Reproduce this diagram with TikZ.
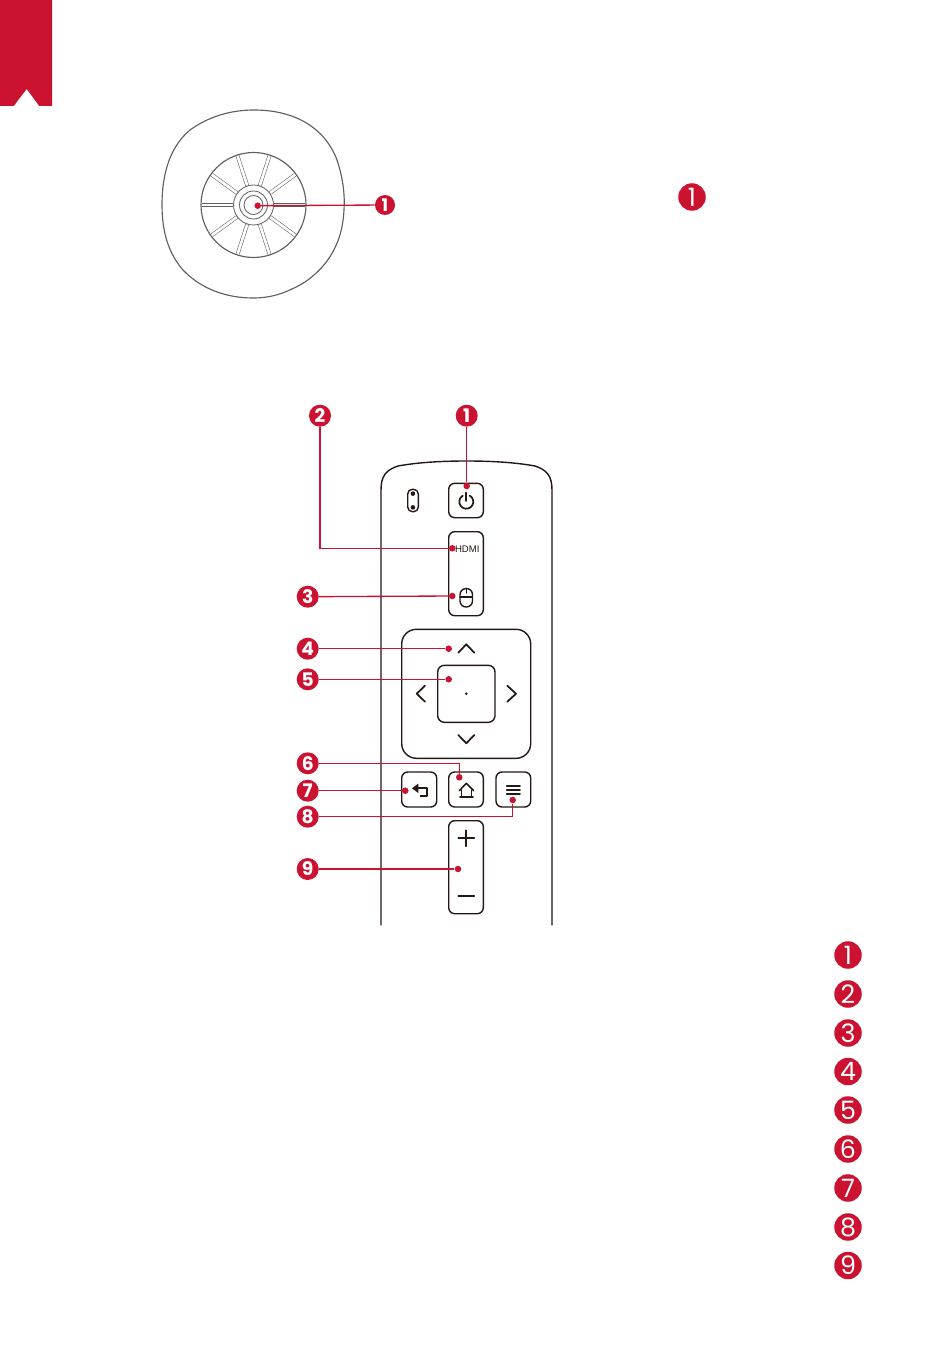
\documentclass[tikz,border=0pt]{standalone}
\usepackage{fontspec}
\setmainfont{Liberation Sans}
\newfontfamily\numfont{Poppins}
\definecolor{brandred}{HTML}{CB1230}
\definecolor{ink}{HTML}{231815}
\definecolor{greyline}{HTML}{5F5F5F}
\tikzset{
  num/.style={circle,fill=brandred,text=white,inner sep=0pt,minimum size=22*.75pt,font=\numfont\bfseries\fontsize{14pt}{14pt}\selectfont},
  bignum/.style={circle,fill=brandred,text=white,inner sep=0pt,minimum size=27.5*.75pt,font=\numfont\fontsize{19pt}{19pt}\selectfont},
  reddot/.style={circle,fill=brandred,inner sep=0pt,minimum size=6.5*.75pt},
  lead/.style={draw=brandred,line width=1pt},
  part/.style={draw=ink,line width=1.05pt,line join=round,line cap=round},
  icon/.style={part,line width=1.3pt},
  btn/.style={part,rounded corners=4.5pt},
  grey/.style={draw=greyline,line width=.85pt},
}
\begin{document}
\begin{tikzpicture}[x=.75pt,y=-.75pt]
\useasboundingbox (0,0) rectangle (950,1348);
\fill[white] (0,0) rectangle (950,1348);
% bookmark
\fill[brandred] (0,0) -- (52,0) -- (52,106) -- (39.3,106) -- (26.7,89) -- (13.7,106) -- (0,106) -- cycle;
% round device
\draw[grey] (254,110) .. controls (295,110) and (325,128) .. (337,160)
  .. controls (343,178) and (345,195) .. (344,210)
  .. controls (342,250) and (322,270) .. (305,282)
  .. controls (285,294) and (270,298) .. (253,298)
  .. controls (225,298) and (200,288) .. (183,270)
  .. controls (170,255) and (162,235) .. (162,205)
  .. controls (162,170) and (172,145) .. (190,130)
  .. controls (208,117) and (230,110) .. (254,110) -- cycle;
\draw[grey] (253.5,205) circle [radius=52.5];
\foreach \a in {0,36,...,324}
  \draw[draw=greyline,line width=.4pt,double=white,double distance=2pt]
    ({253.5+20.5*cos(\a)},{205+20.5*sin(\a)}) -- ({253.5+51.5*cos(\a)},{205+51.5*sin(\a)});
\draw[grey,line width=.6pt] (253.5,205) circle [radius=20];
\draw[grey,line width=.6pt] (253.5,205) circle [radius=14];
\draw[grey,line width=.6pt] (253.5,205) circle [radius=9.5];
% remote body
\draw[part] (381,925) -- (381,490) .. controls (381,476) and (386,470) .. (398,466)
  .. controls (420,462) and (445,461) .. (466.5,461)
  .. controls (488,461) and (513,462) .. (535,466)
  .. controls (547,470) and (552,476) .. (552,490) -- (552,925);
% indicator
\draw[part,rounded corners=3.5pt] (407.7,489.3) rectangle (418.3,511.7);
\fill[ink] (412.9,493.6) circle [radius=2.3] (412.9,507.4) circle [radius=2.3];
% power
\draw[btn] (448.7,483.3) rectangle (483.3,517.7);
\draw[icon] (469.8,495.64) arc [start angle=-60,end angle=240,radius=7];
\draw[icon] (466.3,492.5) -- (466.3,501);
% hdmi + mouse
\draw[btn] (448.7,531.7) rectangle (483.3,615.7);
\node[font=\fontsize{7.2pt}{7.2pt}\selectfont,text=ink,inner sep=0pt] (hdmi) at (467.3,548.7) {HDMI};
\draw[part,rounded corners=4.6pt] (460,588.5) rectangle (472.5,607);
\draw[part,line width=.9pt] (460,597) -- (472.5,597) (466.3,589) -- (466.3,593);
% d-pad
\draw[part,rounded corners=11pt] (401.7,629.3) rectangle (530.7,758.3);
\draw[part,rounded corners=5pt] (437.7,665.3) rectangle (495,722.3);
\fill[ink] (466.3,693.7) circle [radius=1.4];
\draw[icon] (458.3,652.7) -- (466.3,644.3) -- (474.3,652.7);
\draw[icon] (458.3,735) -- (466.3,743.3) -- (474.3,735);
\draw[icon] (425,685.7) -- (416.7,693.7) -- (425,701.7);
\draw[icon] (507.3,685.7) -- (516,693.7) -- (507.3,701.7);
% small buttons
\draw[btn] (401.7,772) rectangle (436.7,807);
\draw[btn] (448.7,772) rectangle (483.3,807);
\draw[btn] (496,772) rectangle (530.7,807);
\fill[ink] (412,788.3) -- (418.3,783.6) -- (418.3,793) -- cycle;
\draw[icon,line cap=butt] (417,788.3) -- (426.7,788.3) -- (426.7,795.7) -- (420,795.7);
\draw[part,line width=1.15pt] (459.3,790.7) -- (466.3,783.3) -- (473.7,790.7);
\draw[part,line width=1.15pt] (461.7,790) -- (461.7,797) (471.3,790) -- (471.3,797) (460,797) -- (473,797);
\draw[icon] (506.7,785.7) -- (520,785.7) (506.7,789.7) -- (520,789.7) (506.7,793.7) -- (520,793.7);
% volume
\draw[btn] (448.7,820.7) rectangle (483.3,913.7);
\draw[icon] (458.3,838.3) -- (474.3,838.3) (466.3,830.3) -- (466.3,846.3);
\draw[icon] (458.3,896) -- (474.3,896);
% callout dots
\node[reddot] (p0) at (257.7,205.7) {};
\node[reddot] (p1) at (466.7,486) {};
\node[reddot] (p2) at (452.3,548.3) {};
\node[reddot] (p3) at (452.3,596) {};
\node[reddot] (p4) at (448.7,648.7) {};
\node[reddot] (p5) at (448.7,679.3) {};
\node[reddot] (p6) at (459.3,777.3) {};
\node[reddot] (p7) at (405.3,790.7) {};
\node[reddot] (p8) at (512.7,800) {};
\node[reddot] (p9) at (458,869) {};
% callout numbers
\node[num,minimum size=20*.75pt,font=\numfont\bfseries\fontsize{13pt}{13pt}\selectfont] (n0) at (385,205) {1};
\node[num] (n1) at (466.7,415.7) {1};
\node[num] (n2) at (320,415.7) {2};
\node[num] (n3) at (307.7,596.7) {3};
\node[num] (n4) at (307.7,648.7) {4};
\node[num] (n5) at (307.7,679.3) {5};
\node[num] (n6) at (307.7,763.3) {6};
\node[num] (n7) at (307.7,790.7) {7};
\node[num] (n8) at (307.7,816.7) {8};
\node[num] (n9) at (307.7,869) {9};
% connectors
\draw[lead] (n0) -- (p0);
\draw[lead] (n1) -- (p1);
\draw[lead] (n2) |- (p2);
\draw[lead] (n3) -- (p3);
\draw[lead] (n4) -- (p4);
\draw[lead] (n5) -- (p5);
\draw[lead] (n6) -| (p6);
\draw[lead] (n7) -- (p7);
\draw[lead] (n8) -| (p8);
\draw[lead] (n9) -- (p9);
% standalone numbers
\node[bignum] (a0) at (692,197) {1};
\node[bignum] (b1) at (848,955) {1};
\node[bignum] (b2) at (848,994) {2};
\node[bignum] (b3) at (848,1033) {3};
\node[bignum] (b4) at (848,1071.5) {4};
\node[bignum] (b5) at (848,1110) {5};
\node[bignum] (b6) at (848,1149) {6};
\node[bignum] (b7) at (848,1188) {7};
\node[bignum] (b8) at (848,1227) {8};
\node[bignum] (b9) at (848,1265.5) {9};
\end{tikzpicture}
\end{document}
